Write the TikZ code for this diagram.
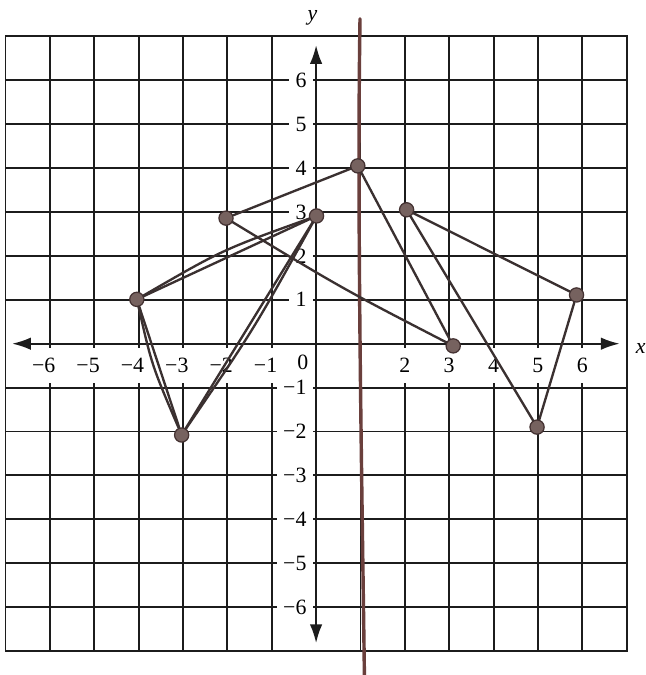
\documentclass[tikz,border=0pt]{standalone}
\usepackage{fontspec}
\setmainfont{Liberation Serif}
\usetikzlibrary{arrows.meta}
\definecolor{gridc}{HTML}{1C1C1C}
\definecolor{penc}{HTML}{3A3030}
\definecolor{blobfill}{HTML}{76625F}
\definecolor{blobdraw}{HTML}{443232}
\definecolor{handc}{HTML}{6A3F3C}
\begin{document}
\begin{tikzpicture}[x=1cm,y=0.9894cm,
  gridline/.style={draw=gridc,line width=1.2pt},
  axisline/.style={draw=gridc,line width=1.2pt,{Latex[length=0.42cm,width=0.28cm]}-{Latex[length=0.42cm,width=0.28cm]}},
  numfont/.style={font=\fontsize{14}{16}\selectfont},
  ylab/.style={numfont,fill=white,anchor=east,inner xsep=4pt,inner ysep=1pt},
  xlab/.style={numfont,fill=white,inner xsep=2pt,inner ysep=0pt,minimum height=0.8cm},
  axlab/.style={font=\fontsize{14}{16}\selectfont\itshape,inner sep=0pt},
  blob/.style={circle,fill=blobfill,draw=blobdraw,line width=0.8pt,minimum size=0.32cm,inner sep=0pt},
  pen/.style={draw=penc,line width=1.5pt,line cap=round},
  hand/.style={draw=handc,line width=2.2pt,line cap=round}]
\useasboundingbox (-7.124,-7.547) rectangle (7.413,7.829);
\fill[white] (-7.124,-7.547) rectangle (7.413,7.829);
% grid
\foreach \i in {-6,...,-1,1,2,...,6} {
  \draw[gridline] (\i,-7) -- (\i,7);
  \draw[gridline] (-7,\i) -- (7,\i);
}
\draw[gridline] (-7,-7) rectangle (7,7);
% tick labels
\foreach \j in {1,...,6} {
  \node[ylab] (yp\j) at (-0.07,\j) {\j};
  \node[ylab] (ym\j) at (-0.07,-\j) {−\j};
}
\foreach \i in {2,...,6} {
  \node[xlab] (xp\i) at (\i,-0.5) {\i};
}
\foreach \i in {1,...,6} {
  \node[xlab] (xm\i) at (-\i,-0.5) {\llap{−}\i};
}
\node[numfont,inner sep=0pt] (zero) at (-0.3,-0.42) {0};
% axes
\coordinate (xleft) at (-6.85,0);
\coordinate (xright) at (6.84,0);
\coordinate (ybot) at (0,-6.82);
\coordinate (ytop) at (0,6.8);
\draw[axisline] (xleft) -- (xright);
\draw[axisline] (ybot) -- (ytop);
\node[axlab] (ylabel) at (-0.08,7.42) {y};
\node[axlab,anchor=west] (xlabel) at (7.2,-0.12) {x};
% hand-drawn vertical line
\coordinate (htop) at (0.99,7.4);
\coordinate (hbot) at (1.09,-7.65);
\draw[hand] (htop) .. controls (0.92,3) and (1.03,-3) .. (hbot);
% points
\node[blob] (A) at (0.01,2.91) {};
\node[blob] (B) at (-2.03,2.86) {};
\node[blob] (C) at (-4.04,1.01) {};
\node[blob] (D) at (-3.03,-2.08) {};
\node[blob] (E) at (0.94,4.05) {};
\node[blob] (F) at (2.04,3.05) {};
\node[blob] (G) at (5.87,1.11) {};
\node[blob] (H) at (3.09,-0.05) {};
\node[blob] (I) at (4.98,-1.9) {};
% segments
\draw[pen] (B) -- (E);
\draw[pen] (B) .. controls (0.6,1.25) .. (H);
\draw[pen] (C) -- (A);
\draw[pen] (C) .. controls (-2.11,2.14) .. (A);
\draw[pen] (C) -- (D);
\draw[pen] (C) .. controls (-3.7,-0.5) .. (D);
\draw[pen] (D) -- (A);
\draw[pen] (D) .. controls (-1.40,0.33) .. (A);
\draw[pen] (E) -- (H);
\draw[pen] (F) -- (I);
\draw[pen] (F) -- (G);
\draw[pen] (G) -- (I);
\end{tikzpicture}
\end{document}
